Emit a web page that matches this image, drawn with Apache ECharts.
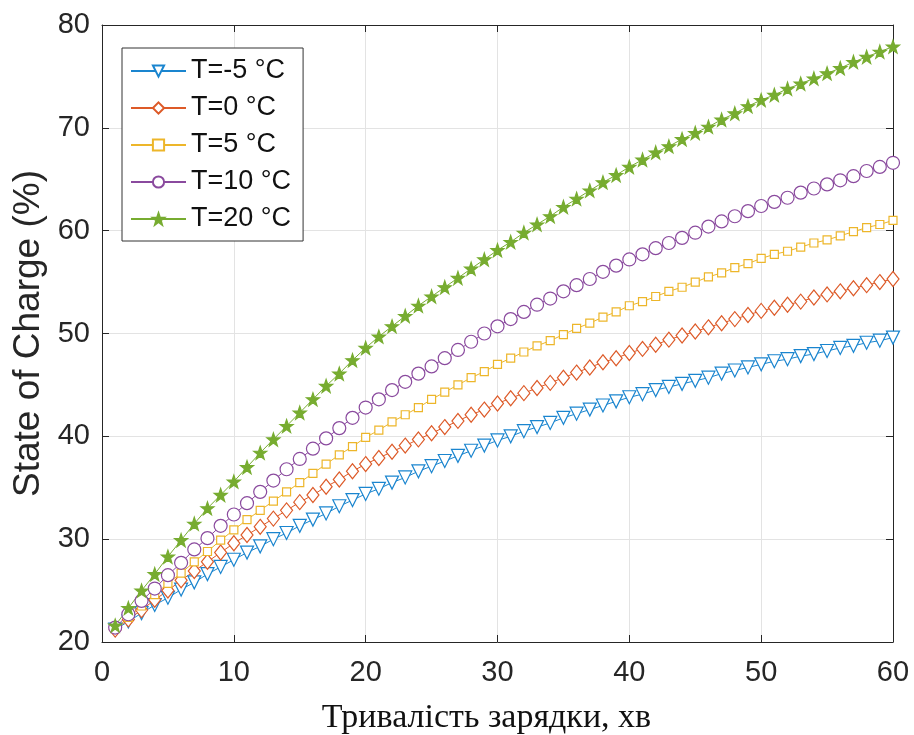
<!DOCTYPE html>
<html>
<head>
<meta charset="utf-8">
<script src="https://cdn.jsdelivr.net/npm/echarts@6/dist/echarts.min.js"></script>
<style>
  html, body { margin: 0; padding: 0; background: #fff; }
  #chart { width: 914px; height: 735px; }
</style>
</head>
<body>
<div id="chart"></div>
<script>
var chart = echarts.init(document.getElementById('chart'));

// хвилини зарядки
var minutes = [1,2,3,4,5,6,7,8,9,10,11,12,13,14,15,16,17,18,19,20,
  21,22,23,24,25,26,27,28,29,30,31,32,33,34,35,36,37,38,39,40,
  41,42,43,44,45,46,47,48,49,50,51,52,53,54,55,56,57,58,59,60];

var socM5 = [21.2,22.0,22.8,23.6,24.3,25.1,25.8,26.6,27.3,28.0,28.7,29.3,30.0,30.6,31.3,31.9,32.5,33.2,33.8,34.4,
  34.9,35.5,36.0,36.6,37.1,37.6,38.1,38.6,39.1,39.6,40.0,40.5,40.9,41.3,41.8,42.2,42.6,43.0,43.4,43.8,
  44.1,44.5,44.8,45.1,45.4,45.7,46.1,46.4,46.7,47.0,47.3,47.5,47.8,48.0,48.3,48.6,48.8,49.1,49.3,49.6];
var soc0 = [21.2,22.2,23.1,24.1,25.0,26.0,26.9,27.8,28.7,29.6,30.4,31.2,32.0,32.8,33.6,34.3,35.1,35.8,36.6,37.3,
  37.9,38.5,39.1,39.7,40.3,40.9,41.5,42.1,42.6,43.2,43.7,44.2,44.7,45.2,45.7,46.2,46.7,47.2,47.6,48.1,
  48.5,48.9,49.4,49.8,50.2,50.6,51.0,51.4,51.8,52.2,52.5,52.8,53.1,53.5,53.8,54.1,54.4,54.7,55.0,55.3];
var soc5 = [21.3,22.4,23.5,24.6,25.7,26.7,27.8,28.8,29.9,30.9,31.9,32.8,33.7,34.6,35.5,36.4,37.3,38.2,39.0,39.9,
  40.6,41.4,42.1,42.8,43.6,44.3,45.0,45.7,46.3,47.0,47.6,48.2,48.8,49.3,49.9,50.5,51.0,51.6,52.1,52.7,
  53.1,53.6,54.1,54.5,55.0,55.5,55.9,56.4,56.8,57.3,57.7,58.0,58.4,58.8,59.1,59.5,59.9,60.3,60.6,61.0];
var soc10 = [21.4,22.7,24.0,25.2,26.5,27.7,29.0,30.1,31.3,32.4,33.5,34.6,35.7,36.8,37.8,38.8,39.8,40.8,41.8,42.8,
  43.6,44.5,45.3,46.1,46.8,47.6,48.4,49.2,50.0,50.7,51.4,52.1,52.8,53.4,54.1,54.7,55.3,56.0,56.6,57.2,
  57.7,58.3,58.8,59.3,59.8,60.4,60.9,61.4,61.9,62.4,62.8,63.2,63.7,64.1,64.5,64.9,65.3,65.8,66.2,66.6];
var soc20 = [21.6,23.3,25.0,26.6,28.3,29.9,31.5,33.0,34.3,35.6,37.0,38.4,39.7,41.0,42.3,43.6,44.9,46.1,47.4,48.6,
  49.7,50.7,51.7,52.7,53.6,54.5,55.4,56.3,57.2,58.1,58.9,59.8,60.6,61.4,62.3,63.1,63.9,64.7,65.4,66.2,
  66.9,67.6,68.2,68.9,69.5,70.1,70.8,71.4,72.1,72.7,73.2,73.8,74.3,74.8,75.3,75.8,76.4,76.9,77.4,77.9];

var names = ['T=-5 °C', 'T=0 °C', 'T=5 °C', 'T=10 °C', 'T=20 °C'];
var colors = ['#1a85cf', '#dd5a28', '#edb62a', '#8a4a9e', '#77AC30'];
var star = 'path://M0,-10 L2.35,-3.24 9.51,-3.09 3.8,1.24 5.88,8.09 0,4 -5.88,8.09 -3.8,1.24 -9.51,-3.09 -2.35,-3.24Z';

function pairs(vals) {
    var out = [];
    for (var i = 0; i < minutes.length; i++) out.push([minutes[i], vals[i]]);
    return out;
}

function makeSeries(idx, vals, symbol, size, rotate, fill) {
    return {
        name: names[idx],
        type: 'line',
        data: pairs(vals),
        symbol: symbol,
        symbolSize: size,
        symbolRotate: rotate,
        showAllSymbol: true,
        lineStyle: { color: colors[idx], width: 1 },
        itemStyle: { color: fill, borderColor: colors[idx], borderWidth: 1.2 },
        emphasis: { disabled: true },
        animation: false
    };
}

var sans = 'Liberation Sans, Arial, sans-serif';
var axisText = { color: '#262626', fontSize: 29, fontFamily: sans };

chart.setOption({
    backgroundColor: '#fff',
    grid: { left: 102, right: 21, top: 25, bottom: 93, outerBoundsMode: 'none' },
    legend: {
        orient: 'vertical',
        left: 122,
        top: 48,
        padding: [8, 12, 7, 8],
        itemGap: 7,
        itemWidth: 55,
        itemHeight: 14,
        borderColor: '#333',
        borderWidth: 1,
        backgroundColor: '#fff',
        textStyle: { color: '#111', fontSize: 27, lineHeight: 30, fontFamily: sans },
        data: names
    },
    xAxis: [{
        type: 'value', min: 0, max: 60, interval: 10,
        name: 'Тривалість зарядки, хв',
        nameLocation: 'middle', nameGap: 59,
        nameTextStyle: { color: '#111', fontSize: 34, fontFamily: 'Liberation Serif, Times New Roman, serif', padding: [0, 22, 0, 0] },
        axisLine: { onZero: false, lineStyle: { color: '#262626', width: 1 } },
        axisTick: { inside: true, length: 7, lineStyle: { color: '#262626' } },
        axisLabel: Object.assign({ margin: 16 }, axisText),
        splitLine: { show: true, lineStyle: { color: '#e3e3e3', width: 1 } }
    }, {
        type: 'value', min: 0, max: 60, interval: 10, position: 'top',
        axisLine: { onZero: false, lineStyle: { color: '#262626', width: 1 } },
        axisTick: { inside: true, length: 7, lineStyle: { color: '#262626' } },
        axisLabel: { show: false },
        splitLine: { show: false }
    }],
    yAxis: [{
        type: 'value', min: 20, max: 80, interval: 10,
        name: 'State of Charge (%)',
        nameLocation: 'middle', nameGap: 53,
        nameTextStyle: { color: '#262626', fontSize: 37, fontFamily: sans },
        axisLine: { show: true, onZero: false, lineStyle: { color: '#262626', width: 1 } },
        axisTick: { show: true, inside: true, length: 7, lineStyle: { color: '#262626' } },
        axisLabel: Object.assign({ margin: 12 }, axisText),
        splitLine: { show: true, lineStyle: { color: '#e3e3e3', width: 1 } }
    }, {
        type: 'value', min: 20, max: 80, interval: 10, position: 'right',
        axisLine: { show: true, onZero: false, lineStyle: { color: '#262626', width: 1 } },
        axisTick: { show: true, inside: true, length: 7, lineStyle: { color: '#262626' } },
        axisLabel: { show: false },
        splitLine: { show: false }
    }],
    series: [
        makeSeries(0, socM5, 'triangle', 13, 180, '#fff'),
        makeSeries(1, soc0, 'diamond', [12, 15], 0, '#fff'),
        makeSeries(2, soc5, 'rect', 8, 0, '#fff'),
        makeSeries(3, soc10, 'circle', 13, 0, '#fff'),
        makeSeries(4, soc20, star, 13, 0, colors[4])
    ]
});

window.addEventListener('resize', function () {
    chart.resize();
});
</script>
</body>
</html>
